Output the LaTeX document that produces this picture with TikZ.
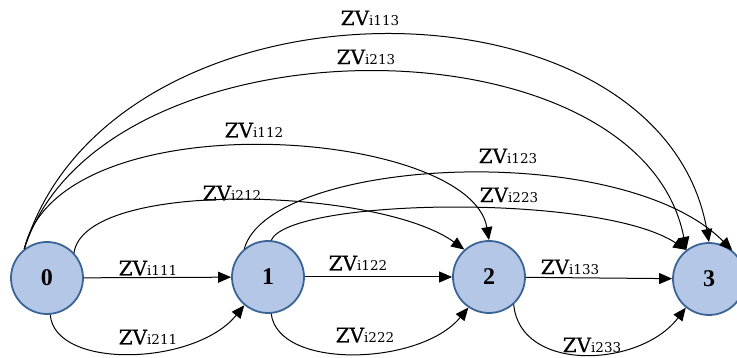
\documentclass[tikz,border=0pt]{standalone}
\usepackage{fontspec}
\setmainfont{Liberation Serif}
\newfontfamily\lblfont{DejaVu Serif}
\newfontfamily\lblfontb[FakeBold=0.4]{DejaVu Serif}
\usetikzlibrary{arrows.meta}
\definecolor{nodefill}{HTML}{B4C7E7}
\definecolor{nodeline}{HTML}{3A6496}
\newcommand{\zvlab}[1]{{\lblfontb\fontsize{20}{20}\selectfont ZV}{\lblfont\fontsize{13.5}{13.5}\selectfont #1}}
\begin{document}
\begin{tikzpicture}[x=1pt,y=1pt,
  state/.style={circle, draw=nodeline, fill=nodefill, line width=1.8pt, minimum size=72pt, inner sep=0pt, font=\fontsize{24}{24}\selectfont\bfseries},
  edge/.style={line width=1pt, -{Triangle[length=13pt,width=11pt]}},
  lbl/.style={inner sep=0pt}]
\useasboundingbox (0,0) rectangle (737,358);
\node[state] (n0) at (47,80) {0};
\node[state] (n1) at (268,81) {1};
\node[state] (n2) at (489,81) {2};
\node[state] (n3) at (709,79) {3};
% straight
\draw[edge] (n0) -- (n1);
\draw[edge] (n1) -- (n2);
\draw[edge] (n2) -- (n3);
% lower
\draw[edge] (n0.275) .. controls (55,-12) and (195,-8) .. (n1.230);
\draw[edge] (n1.275) .. controls (278,-12) and (420,-8) .. (n2.236);
\draw[edge] (n2.312) .. controls (520,-15) and (640,-10) .. (n3.231);
% upper
\draw[edge] (n0.43) .. controls (85,180) and (380,170) .. (n2.132);
\draw[edge] (n0.128) .. controls (60,260) and (470,230) .. (n2.90);
\draw[edge] (n0.128) .. controls (110,393) and (660,393) .. (n3.90);
\draw[edge] (n0.128) .. controls (100,345) and (640,345) .. (n3.128);
\draw[edge] (n1.85) .. controls (290,160) and (600,165) .. (n3.128);
\draw[edge] (n1.130) .. controls (270,200) and (620,220) .. (n3.51);
% labels
\node[lbl] (l113) at (370,340) {\zvlab{i113}};
\node[lbl] (l213) at (366,301) {\zvlab{i213}};
\node[lbl] (l112) at (254,228) {\zvlab{i112}};
\node[lbl] (l123) at (508,202) {\zvlab{i123}};
\node[lbl] (l212) at (232,165) {\zvlab{i212}};
\node[lbl] (l223) at (509,163) {\zvlab{i223}};
\node[lbl] (l111) at (148,90) {\zvlab{i111}};
\node[lbl] (l122) at (358,95) {\zvlab{i122}};
\node[lbl] (l133) at (570,91) {\zvlab{i133}};
\node[lbl] (l211) at (148,21) {\zvlab{i211}};
\node[lbl] (l222) at (365,23) {\zvlab{i222}};
\node[lbl] (l233) at (592,13) {\zvlab{i233}};
\end{tikzpicture}
\end{document}
